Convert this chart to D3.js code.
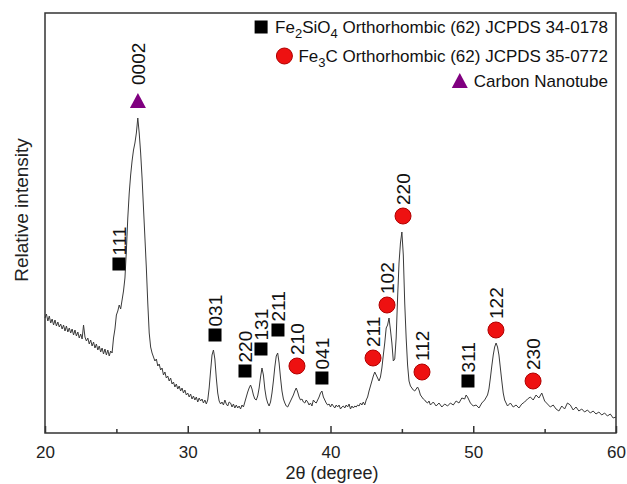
<!DOCTYPE html>
<html>
<head>
<meta charset="utf-8">
<script src="https://cdn.jsdelivr.net/npm/d3@7"></script>
<style>
  body { margin: 0; background: #fff; }
  svg { display: block; font-family: "Liberation Sans", Arial, sans-serif; }
</style>
</head>
<body>
<div id="chart"></div>
<script>
// 2theta (deg) and relative intensity
let twoTheta = [
  20.0,20.1,20.2,20.3,20.4,20.5,20.6,20.7,20.8,20.9,
  21.0,21.1,21.2,21.3,21.4,21.5,21.6,21.7,21.8,21.9,
  22.0,22.1,22.2,22.3,22.4,22.5,22.6,22.7,22.8,22.9,
  23.0,23.1,23.2,23.3,23.4,23.5,23.6,23.7,23.8,23.9,
  24.0,24.1,24.2,24.3,24.4,24.5,24.6,24.7,24.8,24.9,
  25.0,25.1,25.2,25.3,25.4,25.5,25.6,25.7,25.8,25.9,
  26.0,26.1,26.2,26.3,26.4,26.5,26.6,26.7,26.8,26.9,
  27.0,27.1,27.2,27.3,27.4,27.5,27.6,27.7,27.8,27.9,
  28.0,28.1,28.2,28.3,28.4,28.5,28.6,28.7,28.8,28.9,
  29.0,29.1,29.2,29.3,29.4,29.5,29.6,29.7,29.8,29.9,
  30.0,30.1,30.2,30.3,30.4,30.5,30.6,30.7,30.8,30.9,
  31.0,31.1,31.2,31.3,31.4,31.5,31.6,31.7,31.8,31.9,
  32.0,32.1,32.2,32.3,32.4,32.5,32.6,32.7,32.8,32.9,
  33.0,33.1,33.2,33.3,33.4,33.5,33.6,33.7,33.8,33.9,
  34.0,34.1,34.2,34.3,34.4,34.5,34.6,34.7,34.8,34.9,
  35.0,35.1,35.2,35.3,35.4,35.5,35.6,35.7,35.8,35.9,
  36.0,36.1,36.2,36.3,36.4,36.5,36.6,36.7,36.8,36.9,
  37.0,37.1,37.2,37.3,37.4,37.5,37.6,37.7,37.8,37.9,
  38.0,38.1,38.2,38.3,38.4,38.5,38.6,38.7,38.8,38.9,
  39.0,39.1,39.2,39.3,39.4,39.5,39.6,39.7,39.8,39.9,
  40.0,40.1,40.2,40.3,40.4,40.5,40.6,40.7,40.8,40.9,
  41.0,41.1,41.2,41.3,41.4,41.5,41.6,41.7,41.8,41.9,
  42.0,42.1,42.2,42.3,42.4,42.5,42.6,42.7,42.8,42.9,
  43.0,43.1,43.2,43.3,43.4,43.5,43.6,43.7,43.8,43.9,
  44.0,44.1,44.2,44.3,44.4,44.5,44.6,44.7,44.8,44.9,
  45.0,45.1,45.2,45.3,45.4,45.5,45.6,45.7,45.8,45.9,
  46.0,46.1,46.2,46.3,46.4,46.5,46.6,46.7,46.8,46.9,
  47.0,47.2,47.4,47.6,47.8,48.0,48.2,48.4,48.6,48.8,
  49.0,49.2,49.4,49.5,49.6,49.8,50.0,50.2,50.4,50.6,
  50.8,51.0,51.1,51.2,51.3,51.4,51.5,51.6,51.7,51.8,
  51.9,52.0,52.1,52.2,52.4,52.6,52.8,53.0,53.2,53.4,
  53.6,53.8,54.0,54.2,54.4,54.6,54.8,55.0,55.2,55.4,
  55.6,55.8,56.0,56.2,56.4,56.6,56.8,57.0,57.2,57.4,
  57.6,57.8,58.0,58.2,58.4,58.6,58.8,59.0,59.2,59.4,
  59.6,59.8,60.0
];
let intensity = [
  115,119,112,117,110,114,108,113,107,111,
  106,109,104,108,102,107,101,105,100,104,
  98,103,97,101,95,99,94,108,96,92,
  95,89,93,87,91,85,89,83,87,81,
  85,79,84,78,83,77,82,80,95,104,
  118,122,128,124,133,142,155,182,215,240,
  258,272,283,290,300,315,300,280,255,225,
  195,165,130,100,86,80,76,72,74,67,
  69,63,65,58,61,55,57,52,55,49,
  51,46,49,44,47,42,45,40,43,38,
  40,36,39,34,37,33,36,31,35,32,
  34,30,33,29,33,45,62,78,83,74,
  55,40,32,29,31,28,33,29,27,31,
  30,26,29,25,28,25,27,24,28,26,
  31,36,41,45,48,44,38,34,33,37,
  45,56,65,58,44,35,30,27,31,40,
  52,66,77,80,70,55,42,34,30,27,
  26,29,32,35,38,42,45,41,36,33,
  34,31,30,33,31,28,30,27,33,31,
  30,33,36,40,42,36,33,30,28,29,
  26,29,27,25,28,26,28,24,26,27,
  25,28,26,29,24,27,25,27,26,28,
  27,30,28,31,28,33,36,42,47,52,
  57,61,58,55,52,56,65,78,90,105,
  108,115,103,90,72,74,95,135,170,190,
  201,178,130,95,68,52,47,45,43,42,
  44,46,43,38,36,34,33,31,30,32,
  28,31,27,30,26,29,27,30,28,32,
  30,35,34,38,36,30,27,28,25,30,
  33,38,44,55,67,78,86,90,86,78,
  65,52,40,33,27,30,26,28,25,29,
  31,34,36,33,38,35,40,32,29,26,
  28,24,22,27,24,30,28,23,26,22,
  24,21,23,20,22,19,21,18,20,17,
  19,15,16
];

// reflection markers: position (2theta, intensity level) and hkl label
let fe2sio4Peaks = [25.18, 31.91, 34.01, 35.13, 36.32, 39.40, 49.63];
let fe2sio4Levels = [169, 98, 62, 84, 103, 55, 52];
let fe2sio4Labels = ["111", "031", "220", "131", "211", "041", "311"];

let fe3cPeaks = [37.65, 42.98, 43.96, 45.08, 46.41, 51.59, 54.19];
let fe3cLevels = [67, 75, 128, 217, 61, 103, 52];
let fe3cLabels = ["210", "211", "102", "220", "112", "122", "230"];

let cntPeaks = [26.51];
let cntLevels = [332];
let cntLabels = ["0002"];

let xTicks = [20, 30, 40, 50, 60];
let xMinorTicks = [25, 35, 45, 55];

let width = 627, height = 484;
let margin = {left: 45, right: 11, top: 13, bottom: 51};

let svg = d3.select("#chart").append("svg")
            .attr("width", width).attr("height", height);

let xScale = d3.scaleLinear().domain([20, 60]).range([margin.left, width - margin.right]);
let yScale = d3.scaleLinear().domain([0, 420]).range([height - margin.bottom, margin.top]);

let series = twoTheta.map((t, i) => ({x: t, y: intensity[i]}));

let line = d3.line()
             .x(function(d){ return xScale(d.x); })
             .y(function(d){ return yScale(d.y); });

svg.append("path").datum(series)
   .attr("d", line)
   .attr("fill", "none")
   .attr("stroke", "#3a3a3a")
   .attr("stroke-width", 1);

// frame
svg.append("rect")
   .attr("x", margin.left).attr("y", margin.top)
   .attr("width", width - margin.left - margin.right)
   .attr("height", height - margin.top - margin.bottom)
   .attr("fill", "none").attr("stroke", "#333").attr("stroke-width", 1.5);

let xAxis = d3.axisBottom(xScale).tickValues(xTicks).tickSize(-7).tickPadding(13)
              .tickFormat(d3.format("d"));
let gx = svg.append("g")
            .attr("transform", "translate(0," + (height - margin.bottom) + ")")
            .call(xAxis);
gx.select(".domain").remove();
gx.selectAll("line").attr("stroke", "#333").attr("stroke-width", 1.5);
gx.selectAll("text").attr("font-size", 17).attr("fill", "#222")
  .attr("font-family", "'Liberation Sans', Arial, sans-serif");

let xMinor = d3.axisBottom(xScale).tickValues(xMinorTicks).tickSize(-4).tickFormat("");
let gxm = svg.append("g")
             .attr("transform", "translate(0," + (height - margin.bottom) + ")")
             .call(xMinor);
gxm.select(".domain").remove();
gxm.selectAll("line").attr("stroke", "#333").attr("stroke-width", 1.5);

// axis titles
svg.append("text")
   .attr("x", 332).attr("y", 479)
   .attr("text-anchor", "middle")
   .attr("font-size", 18).attr("fill", "#222")
   .text("2θ (degree)");

svg.append("text")
   .attr("transform", "translate(28,210)rotate(-90)")
   .attr("text-anchor", "middle")
   .attr("font-size", 19).attr("fill", "#222")
   .text("Relative intensity");

// marker shapes
function drawMarker(g, kind, cx, cy) {
  if (kind == "square") {
    g.append("rect").attr("x", cx - 6.5).attr("y", cy - 6.5)
     .attr("width", 13).attr("height", 13).attr("fill", "#000");
  } else if (kind == "circle") {
    g.append("circle").attr("cx", cx).attr("cy", cy).attr("r", 8)
     .attr("fill", "#ee1111").attr("stroke", "#b00000").attr("stroke-width", 1);
  } else {
    g.append("path")
     .attr("d", "M" + cx + "," + (cy - 8) + "L" + (cx + 8) + "," + (cy + 7) + "L" + (cx - 8) + "," + (cy + 7) + "Z")
     .attr("fill", "#800080");
  }
}

let half = {square: 6.5, circle: 8, triangle: 8};

function drawPeaks(peaks, levels, labels, kind, gap) {
  let g = svg.append("g");
  peaks.forEach((t, i) => {
    let cx = xScale(t), cy = yScale(levels[i]);
    drawMarker(g, kind, cx, cy);
    g.append("text")
     .attr("transform", "translate(" + cx + "," + (cy - half[kind] - gap) + ")rotate(-90)")
     .attr("dy", "0.36em")
     .attr("font-size", 19).attr("fill", "#111")
     .text(labels[i]);
  });
}

drawPeaks(fe2sio4Peaks, fe2sio4Levels, fe2sio4Labels, "square", 2);
drawPeaks(fe3cPeaks, fe3cLevels, fe3cLabels, "circle", 3);
drawPeaks(cntPeaks, cntLevels, cntLabels, "triangle", 8);

// legend, right aligned
let legendRight = 608;
let legend = svg.append("g").attr("font-size", 17).attr("fill", "#111");

function legendRow(y, kind, parts) {
  let t = legend.append("text").attr("x", legendRight).attr("y", y).attr("text-anchor", "end");
  let shift = 0;
  parts.forEach((p) => {
    if (p.sub) {
      t.append("tspan").attr("dy", 5 - shift).attr("font-size", 13).text(p.sub);
      shift = 5;
    } else {
      t.append("tspan").attr("dy", -shift).text(p.txt);
      shift = 0;
    }
  });
  let bb = t.node().getBBox();
  drawMarker(legend, kind, bb.x - 14, y - 6);
}

legendRow(33, "square", [{txt: "Fe"}, {sub: "2"}, {txt: "SiO"}, {sub: "4"}, {txt: " Orthorhombic (62) JCPDS 34-0178"}]);
legendRow(62, "circle", [{txt: "Fe"}, {sub: "3"}, {txt: "C Orthorhombic (62) JCPDS 35-0772"}]);
legendRow(87, "triangle", [{txt: "Carbon Nanotube"}]);
</script>
</body>
</html>
